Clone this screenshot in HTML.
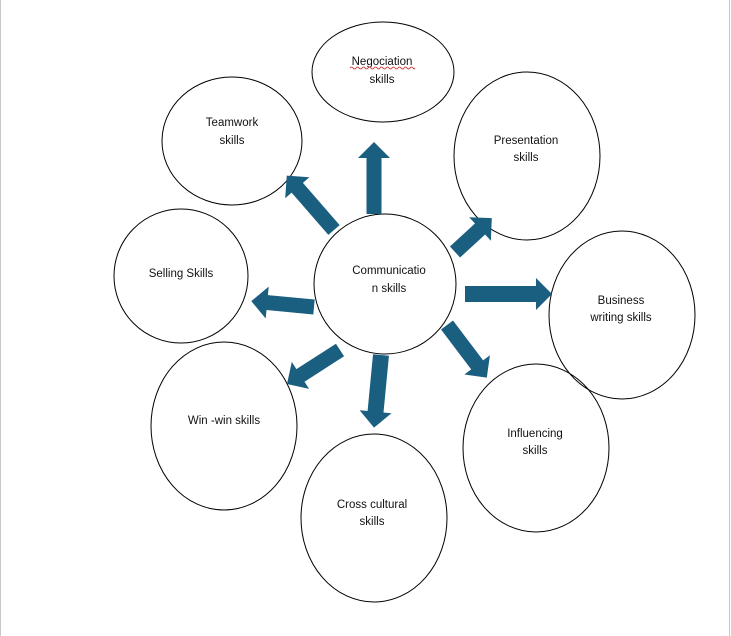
<!DOCTYPE html>
<html><head><meta charset="utf-8"><style>
html,body{margin:0;padding:0;background:#fff}
body{width:731px;height:636px;overflow:hidden}
svg{display:block}
text{font-family:"Liberation Sans",sans-serif;font-size:11.5px;fill:#111;text-anchor:middle}
</style></head><body>
<svg width="731" height="636" viewBox="0 0 731 636">
<rect x="0" y="0" width="731" height="636" fill="#fff"/>
<line x1="0.5" y1="0" x2="0.5" y2="636" stroke="#c8c8c8"/>
<line x1="729.5" y1="0" x2="729.5" y2="636" stroke="#c8c8c8"/>
<g fill="none" stroke="#000" stroke-width="1">
<ellipse cx="383" cy="72" rx="71" ry="50"/>
<ellipse cx="232" cy="141" rx="70" ry="64"/>
<ellipse cx="527" cy="156" rx="73" ry="84"/>
<ellipse cx="181" cy="276" rx="67" ry="67"/>
<ellipse cx="622" cy="315" rx="73" ry="84"/>
<ellipse cx="224" cy="426" rx="73" ry="84"/>
<ellipse cx="536" cy="448" rx="73" ry="84"/>
<ellipse cx="374" cy="518" rx="73" ry="84"/>
</g>
<ellipse cx="385" cy="284" rx="71" ry="70" fill="#fff" stroke="#000"/>
<g fill="#1b5f80">
<polygon points="0,-7.5 56,-7.5 56,-16 72,0 56,16 56,7.5 0,7.5" transform="translate(374,214) rotate(-90)"/>
<polygon points="0,-7.5 56,-7.5 56,-16 72,0 56,16 56,7.5 0,7.5" transform="translate(334,230) rotate(-131)"/>
<polygon points="0,-7.5 34,-7.5 34,-16 50,0 34,16 34,7.5 0,7.5" transform="translate(455,252) rotate(-42.6)"/>
<polygon points="0,-8 71,-8 71,-16 87,0 71,16 71,8 0,8" transform="translate(465,294)"/>
<polygon points="0,-7.5 47,-7.5 47,-16 63,0 47,16 47,7.5 0,7.5" transform="translate(314,307) rotate(185.4)"/>
<polygon points="0,-7.5 47,-7.5 47,-16 63,0 47,16 47,7.5 0,7.5" transform="translate(340,350) rotate(147.3)"/>
<polygon points="0,-8 57,-8 57,-16 73,0 57,16 57,8 0,8" transform="translate(381,355) rotate(95.5)"/>
<polygon points="0,-7.5 50,-7.5 50,-16 66,0 50,16 50,7.5 0,7.5" transform="translate(447,325) rotate(52.9)"/>
</g>
<text x="382" y="65">Negociation</text>
<path d="M350,68 q1.5,-2 3,0 t3,0 t3,0 t3,0 t3,0 t3,0 t3,0 t3,0 t3,0 t3,0 t3,0 t3,0 t3,0 t3,0 t3,0 t3,0 t3,0 t3,0 t3,0 t3,0 t3,0 t2,0" fill="none" stroke="#d02020" stroke-width="0.8"/>
<text x="382" y="83">skills</text>
<text x="232" y="126">Teamwork</text>
<text x="232" y="144">skills</text>
<text x="526" y="144">Presentation</text>
<text x="526" y="161">skills</text>
<text x="181" y="277">Selling Skills</text>
<text x="389" y="274">Communicatio</text>
<text x="389" y="292">n skills</text>
<text x="621" y="304">Business</text>
<text x="621" y="321">writing skills</text>
<text x="224" y="424">Win -win skills</text>
<text x="535" y="437">Influencing</text>
<text x="535" y="454">skills</text>
<text x="372" y="508">Cross cultural</text>
<text x="372" y="525">skills</text>
</svg>
</body></html>
